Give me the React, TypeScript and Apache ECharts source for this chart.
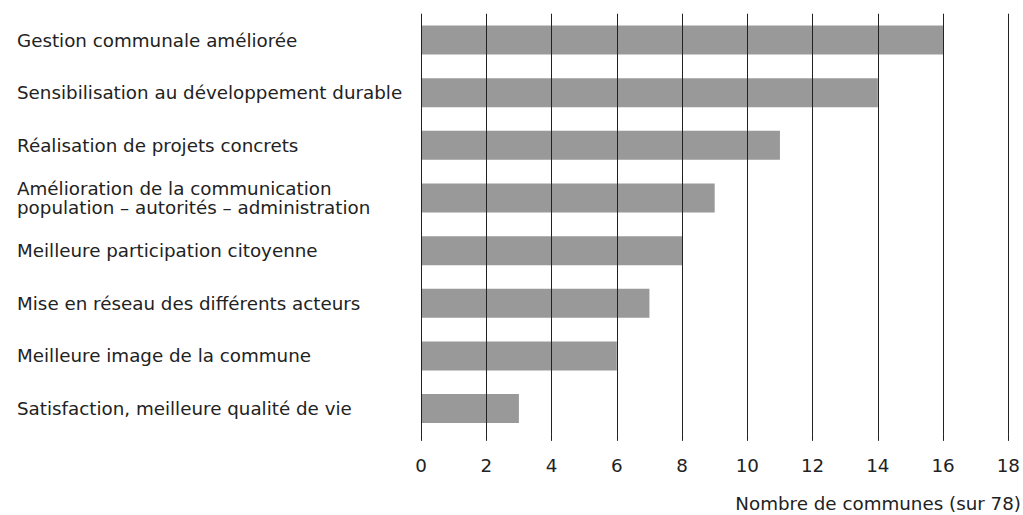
import React, { useEffect, useRef } from "react";
import * as echarts from "echarts";

const categories = [
  "Gestion communale améliorée",
  "Sensibilisation au développement durable",
  "Réalisation de projets concrets",
  "Amélioration de la communication\npopulation – autorités – administration",
  "Meilleure participation citoyenne",
  "Mise en réseau des différents acteurs",
  "Meilleure image de la commune",
  "Satisfaction, meilleure qualité de vie",
];
const values = [16, 14, 11, 9, 8, 7, 6, 3];
const xTicks = { min: 0, max: 18, interval: 2 };
const axisTitle = "Nombre de communes (sur 78)";

const FONT = "DejaVu Sans";
const FS = 18.3;

export default function App() {
  const ref = useRef<HTMLDivElement>(null);
  useEffect(() => {
    const chart = echarts.init(ref.current!, null, { renderer: "svg" });
    chart.setOption({
      animation: false,
      backgroundColor: "#ffffff",
      textStyle: { fontFamily: FONT },
      grid: { left: 421, right: 10, top: 13.7, bottom: 515 - 434.9, containLabel: false },
      xAxis: {
        type: "value",
        min: xTicks.min,
        max: xTicks.max,
        interval: xTicks.interval,
        z: 5,
        axisLine: { show: false },
        axisTick: { show: true, length: 6, lineStyle: { color: "#222", width: 1 } },
        splitLine: { show: true, lineStyle: { color: "#222", width: 1 } },
        axisLabel: { color: "#222", fontSize: FS, fontFamily: FONT, margin: 22 },
      },
      yAxis: {
        type: "category",
        data: categories,
        inverse: true,
        axisLine: { show: false },
        axisTick: { show: false },
        splitLine: { show: false },
        axisLabel: {
          color: "#222",
          fontSize: FS,
          fontFamily: FONT,
          align: "left",
          margin: 404,
          lineHeight: 19,
        },
      },
      series: [
        {
          type: "bar",
          data: values,
          barWidth: 29,
          itemStyle: { color: "#999999" },
          z: 2,
        },
      ],
      graphic: [
        {
          type: "text",
          right: 2,
          top: 494,
          style: { text: axisTitle, fill: "#222", font: `${FS}px '${FONT}'` },
        },
      ],
    });
    return () => chart.dispose();
  }, []);
  return (
    <div
      ref={ref}
      style={{ position: "fixed", left: 0, top: 0, width: 1023, height: 515 }}
    />
  );
}
